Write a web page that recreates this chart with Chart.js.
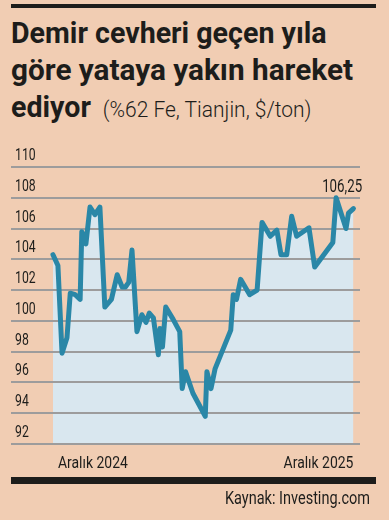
<!DOCTYPE html>
<html lang="tr">
<head>
<meta charset="utf-8">
<script src="https://cdn.jsdelivr.net/npm/chart.js@4.4.1/dist/chart.umd.min.js"></script>
<style>
  html, body { margin: 0; padding: 0; background: #f1cdb3; }
  body { width: 389px; height: 520px; position: relative; overflow: hidden;
         font-family: Roboto, sans-serif; color: #1d1d1b; }
  .rule-top { position: absolute; left: 11px; top: 4px; width: 365px; height: 4px; background: #1d1d1b; }
  .title { position: absolute; left: 11px; top: 14px; margin: 0; font-size: 30px; line-height: 37px; font-weight: 700; }
  .title .line { display: block; white-space: nowrap; transform-origin: 0 0; }
  .title .sub { font-weight: 300; font-size: 22px; margin-left: 5px; }
  #wrap { position: absolute; left: 0; top: 0; width: 389px; height: 520px; }
  .rule-bottom { position: absolute; left: 11px; top: 477px; width: 365px; height: 7px; background: #1d1d1b; }
  .source { position: absolute; right: 19px; top: 488px; font-size: 19px; line-height: 19px; white-space: nowrap; transform-origin: 100% 0; }
</style>
</head>
<body>
<div class="rule-top"></div>
<h1 class="title">
  <span class="line" id="t1">Demir cevheri geçen yıla</span>
  <span class="line" id="t2">göre yataya yakın hareket</span>
  <span class="line" id="t3">ediyor <span class="sub">(%62 Fe, Tianjin, $/ton)</span></span>
</h1>
<div id="wrap"><canvas id="ironChart" width="389" height="520"></canvas></div>
<div class="rule-bottom"></div>
<div class="source" id="src">Kaynak: Investing.com</div>

<script>
// --- Data ---
// days since the first observation (Aralık 2024)
const days = [0, 6, 11, 17, 21, 27, 33, 35, 40, 45, 51, 57, 63, 71, 78, 84, 88, 92, 96, 102,
              108, 113, 117, 122, 128, 130, 133, 137, 146, 154, 157, 161, 170, 185, 187, 192, 197, 216, 219, 223,
              228, 239, 248, 254, 264, 272, 277, 284, 290, 296, 311, 318, 340, 344, 356, 359, 365];
const prices = [104.3, 103.6, 97.9, 98.9, 101.8, 101.7, 101.4, 105.8, 105.0, 107.4, 106.9, 107.4, 100.9, 101.4, 103.0, 102.2, 102.2, 102.5, 104.6, 99.3,
                100.4, 99.9, 100.5, 100.2, 97.8, 99.5, 98.3, 100.9, 100.1, 99.3, 95.6, 96.7, 95.3, 93.8, 96.7, 95.6, 96.9, 99.4, 101.7, 101.4,
                102.7, 101.7, 102.0, 106.4, 105.5, 105.9, 104.3, 104.3, 106.8, 105.5, 106.05, 103.5, 105.1, 108.0, 106.0, 107.0, 107.3];
const yTicks = [92, 94, 96, 98, 100, 102, 104, 106, 108, 110];
const xLabels = ['Aralık 2024', 'Aralık 2025'];
const calloutText = '106,25';

const INK = '#1d1d1b';

// squeeze the wide fonts we have into the narrow newspaper look
function fitWidth(el, w) {
    const s = w / el.getBoundingClientRect().width;
    el.style.transform = 'scaleX(' + s + ')';
    return s;
}
const s1 = fitWidth(document.getElementById('t1'), 329);
fitWidth(document.getElementById('t2'), 342);
document.getElementById('t3').style.transform = 'scaleX(' + s1 + ')';
fitWidth(document.getElementById('src'), 145);

function narrowText(ctx, text, x, y, align, sx) {
    ctx.save();
    ctx.translate(x, y);
    ctx.scale(sx, 1);
    ctx.textAlign = align;
    ctx.fillText(text, 0, 0);
    ctx.restore();
}

// --- Text drawn on the canvas: y ticks, x labels and the value callout ---
const textPlugin = {
    id: 'chartTexts',
    afterDatasetsDraw(chart) {
        const { ctx, scales: { x, y }, chartArea } = chart;
        const meta = chart.getDatasetMeta(0);
        ctx.save();
        ctx.fillStyle = INK;
        ctx.textBaseline = 'alphabetic';

        ctx.font = '17px Roboto';
        yTicks.forEach(v => narrowText(ctx, String(v), chartArea.left + 4, y.getPixelForValue(v) - 7, 'left', 0.72));

        const yLab = chartArea.bottom + 24;
        narrowText(ctx, xLabels[0], x.getPixelForValue(days[0]) + 5, yLab, 'left', 0.82);
        narrowText(ctx, xLabels[1], x.getPixelForValue(days[days.length - 1]), yLab, 'right', 0.82);

        // callout over the peak
        const iMax = prices.indexOf(Math.max(...prices));
        const pt = meta.data[iMax];
        ctx.font = '19px Roboto';
        narrowText(ctx, calloutText, pt.x + 6, pt.y - 6, 'center', 0.7);
        ctx.restore();
    }
};

const ctx = document.getElementById('ironChart').getContext('2d');
new Chart(ctx, {
    type: 'line',
    data: {
        datasets: [{
            data: days.map((d, i) => ({ x: d, y: prices[i] })),
            borderColor: '#2a87a7',
            borderWidth: 5,
            backgroundColor: '#d9e7ef',
            fill: 'start',
            pointRadius: 0,
            tension: 0,
            borderJoinStyle: 'round',
            borderCapStyle: 'round'
        }]
    },
    options: {
        responsive: false,
        animation: false,
        layout: { padding: { top: 167, bottom: 76, left: 11, right: 29 } },
        plugins: {
            legend: { display: false },
            tooltip: { enabled: false },
            filler: { drawTime: 'beforeDraw' }   // fill sits under the grid lines
        },
        scales: {
            x: { type: 'linear', min: -51, max: 373, display: false },
            y: {
                min: 92, max: 110,
                afterBuildTicks: axis => { axis.ticks = yTicks.map(v => ({ value: v })); },
                grid: { color: '#9d9c9c', lineWidth: 2, drawTicks: false },
                border: { display: false },
                ticks: { display: false }
            }
        }
    },
    plugins: [textPlugin]
});
</script>
</body>
</html>
